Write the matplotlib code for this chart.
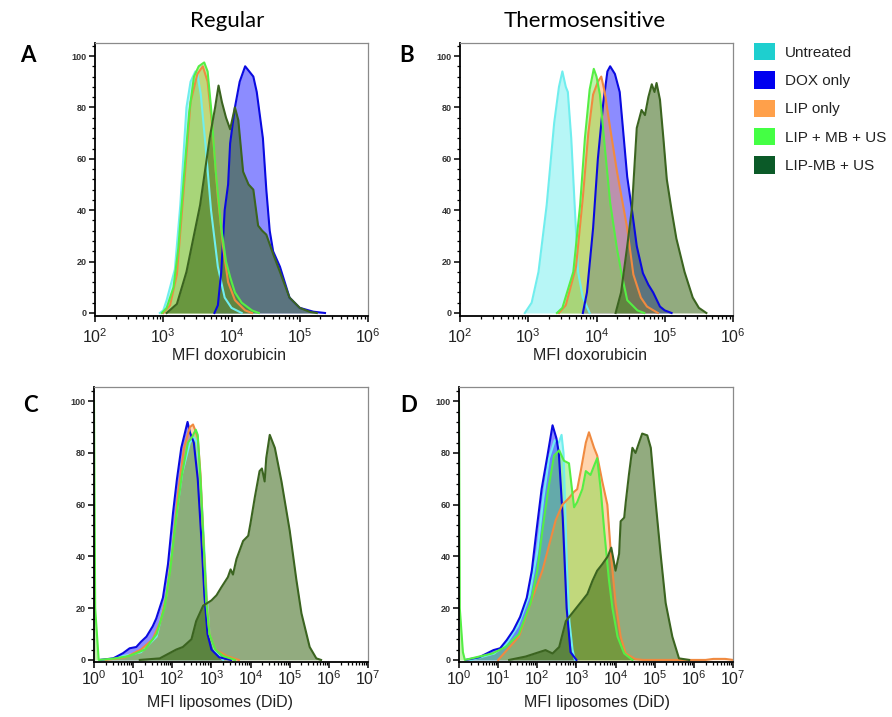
import matplotlib.pyplot as plt
from matplotlib.patches import Patch
from matplotlib.ticker import MultipleLocator, LogLocator, NullFormatter
import numpy as np

# groups, legend colours
groups = ['Untreated', 'DOX only', 'LIP only', 'LIP + MB + US', 'LIP-MB + US']
legend_colors = ['#1ecfcf', '#0000f0', '#ffa04a', '#44ff44', '#0b5a28']
fill_colors = ['#55eaea', '#0000ff', '#ff9a40', '#66e033', '#2f5f0a']
fill_alpha = [0.42, 0.45, 0.42, 0.40, 0.52]
line_colors = ['#70eeee', '#0a0ae0', '#f08a40', '#55ee44', '#3b6420']

# panel A: MFI doxorubicin, regular liposomes (log10 of MFI, % of max)
a_untr_lx = [2.95, 3.0, 3.05, 3.17, 3.25, 3.34, 3.4, 3.47, 3.5, 3.55, 3.62, 3.7, 3.8, 3.9, 4.0, 4.15]
a_untr_y = [0, 1, 5, 17, 42, 80, 90, 94, 93, 85, 65, 40, 18, 6, 2, 0]
a_dox_lx = [3.75, 3.8, 3.85, 3.9, 3.95, 3.98, 4.05, 4.12, 4.2, 4.26, 4.32, 4.37, 4.42, 4.46, 4.51,
            4.56, 4.61, 4.71, 4.78, 4.85, 5.0, 5.2, 5.37]
a_dox_y = [0, 3, 16, 40, 50, 66, 80, 90, 96, 94, 92, 86, 76, 68, 48, 32, 24, 18, 12, 6, 2, 0.5, 0]
a_lip_lx = [3.0, 3.1, 3.2, 3.3, 3.4, 3.5, 3.58, 3.65, 3.72, 3.8, 3.88, 3.95, 4.05, 4.2, 4.3]
a_lip_y = [0, 3, 15, 48, 82, 93, 96, 90, 72, 45, 25, 12, 5, 1, 0]
a_lmu_lx = [2.98, 3.05, 3.15, 3.22, 3.3, 3.38, 3.45, 3.52, 3.6, 3.65, 3.7, 3.77, 3.85, 3.92, 3.98,
            4.05, 4.15, 4.3, 4.4]
a_lmu_y = [0, 2, 10, 25, 52, 78, 92, 96, 97.5, 94, 80, 55, 33, 20, 14, 8, 4, 1, 0]
a_lmbu_lx = [3.05, 3.2, 3.34, 3.44, 3.54, 3.61, 3.68, 3.76, 3.81, 3.86, 3.92, 3.98, 4.05, 4.1, 4.17,
             4.25, 4.32, 4.39, 4.45, 4.51, 4.61, 4.71, 4.85, 5.0, 5.15, 5.25]
a_lmbu_y = [0, 3.5, 16, 29, 42, 55, 68, 80, 88.5, 82, 76, 71.5, 80, 75, 55, 50, 48, 34, 32, 30.5,
            23, 16, 6, 2, 0.4, 0]

# panel B: MFI doxorubicin, thermosensitive liposomes
b_untr_lx = [2.95, 3.05, 3.15, 3.27, 3.38, 3.45, 3.5, 3.55, 3.58, 3.63, 3.68, 3.73, 3.8, 3.9]
b_untr_y = [0, 4, 16, 42, 74, 88, 94, 88, 86, 68, 42, 16, 6, 0]
b_dox_lx = [3.8, 3.86, 3.95, 4.02, 4.1, 4.16, 4.2, 4.27, 4.34, 4.4, 4.45, 4.52, 4.59, 4.68, 4.76,
            4.83, 4.93, 5.0, 5.1]
b_dox_y = [0, 8, 33, 60, 82, 94, 96, 93, 86, 68, 53, 40, 26, 15.5, 11, 8, 2.5, 1, 0]
b_lip_lx = [3.45, 3.55, 3.7, 3.8, 3.88, 3.95, 4.02, 4.07, 4.12, 4.2, 4.3, 4.45, 4.54, 4.65, 4.74, 4.9]
b_lip_y = [0, 3, 18, 45, 70, 85, 90, 92, 86, 72, 55, 33, 15, 6, 2.5, 0]
b_lmu_lx = [3.42, 3.5, 3.66, 3.76, 3.83, 3.9, 3.96, 4.0, 4.05, 4.12, 4.2, 4.3, 4.37, 4.45, 4.6, 4.7]
b_lmu_y = [0, 2, 16, 42, 68, 87, 95, 92, 85, 65, 43, 25, 15, 5, 1, 0]
b_lmbu_lx = [4.28, 4.36, 4.45, 4.52, 4.59, 4.66, 4.71, 4.76, 4.81, 4.85, 4.88, 4.93, 4.98, 5.03,
             5.1, 5.17, 5.29, 5.41, 5.5, 5.61]
b_lmbu_y = [0, 8, 26, 41, 72, 79, 77, 84, 89, 86, 89.5, 83, 68, 52, 40, 29, 16, 6, 2, 0]

# panel C: MFI liposomes (DiD), regular liposomes
c_untr_lx = [0.3, 1.2, 1.6, 1.85, 2.05, 2.25, 2.45, 2.55, 2.63, 2.72, 2.8, 2.88, 2.95, 3.1, 3.3]
c_untr_y = [0, 3, 9, 25, 50, 72, 84, 86, 84, 70, 48, 25, 10, 3, 0]
c_dox_lx = [0.15, 0.49, 0.74, 0.91, 1.08, 1.2, 1.34, 1.5, 1.59, 1.76, 1.89, 2.02, 2.12, 2.23, 2.39,
            2.45, 2.55, 2.65, 2.75, 2.82, 2.9, 3.0, 3.2, 3.5]
c_dox_y = [0, 0.6, 2.6, 4.5, 5, 7, 9, 13, 16, 24, 37, 57, 70, 82, 92, 88, 84, 70, 45, 25, 10, 4, 1, 0]
c_lip_lx = [0.3, 0.8, 1.2, 1.5, 1.7, 1.85, 2.0, 2.15, 2.3, 2.45, 2.53, 2.58, 2.65, 2.72, 2.8, 2.88,
            2.95, 3.1, 3.4, 3.7]
c_lip_y = [0, 1, 4, 8, 15, 25, 42, 65, 82, 90, 91, 89, 86, 72, 45, 22, 10, 4, 1.5, 0]
c_lmu_lx = [0, 0.03, 0.12, 0.5, 0.9, 1.3, 1.6, 1.8, 1.95, 2.1, 2.25, 2.4, 2.5, 2.6, 2.65, 2.72, 2.8,
            2.87, 2.95, 3.1, 3.3, 3.6]
c_lmu_y = [100, 20, 0, 0.5, 1.5, 4, 10, 20, 35, 55, 72, 84, 86, 89, 87, 70, 45, 22, 10, 4, 1.5, 0]
c_lmbu_lx = [1.17, 1.68, 2.1, 2.27, 2.49, 2.61, 2.79, 3.0, 3.13, 3.25, 3.42, 3.49, 3.55, 3.64, 3.81,
             3.94, 4.0, 4.11, 4.23, 4.29, 4.36, 4.4, 4.49, 4.62, 4.79, 5.0, 5.17, 5.3, 5.51, 5.68, 5.8]
c_lmbu_y = [0, 0.6, 4, 5, 8, 15, 21, 23, 25, 28, 32, 35, 33, 39, 46, 48, 53, 63, 73, 74, 69, 78, 87,
            82, 69, 50, 31, 18, 5, 0.6, 0]

# panel D: MFI liposomes (DiD), thermosensitive liposomes
d_untr_lx = [0.3, 0.9, 1.2, 1.5, 1.8, 2.0, 2.15, 2.3, 2.45, 2.55, 2.62, 2.67, 2.72, 2.76, 2.82, 2.9, 2.96]
d_untr_y = [0, 2.5, 6, 13, 25, 42, 62, 78, 85, 84, 87, 80, 55, 35, 15, 4, 0]
d_dox_lx = [0.17, 0.51, 0.88, 1.05, 1.22, 1.39, 1.56, 1.73, 1.86, 1.98, 2.11, 2.26, 2.39, 2.49, 2.55,
            2.65, 2.75, 2.85, 3.0]
d_dox_y = [0, 1, 3.8, 4.5, 7.7, 11.5, 16.6, 24, 34.5, 50, 66, 79, 90.7, 85.6, 80, 55, 20, 3, 0]
d_lip_lx = [1.0, 1.53, 1.83, 2.13, 2.47, 2.64, 2.81, 2.94, 3.02, 3.11, 3.24, 3.32, 3.45, 3.53, 3.66,
            3.79, 3.88, 4.0, 4.13, 4.26, 4.51, 4.7, 6.3, 6.5, 6.8, 7.0]
d_lip_y = [0, 9, 22, 34.5, 54, 60, 62.6, 65, 66, 73, 84, 88, 82, 79, 69, 60, 41, 22, 9, 2.5, 0.3, 0,
           0, 0.4, 0.4, 0]
d_lmu_lx = [0, 0.02, 0.1, 0.15, 0.85, 1.19, 1.53, 1.83, 2.0, 2.13, 2.28, 2.43, 2.56, 2.68, 2.81, 2.94,
            3.02, 3.15, 3.24, 3.36, 3.45, 3.53, 3.62, 3.71, 3.83, 3.92, 4.05, 4.22, 4.43]
d_lmu_y = [100, 20, 3, 0, 2.5, 5, 10, 22, 34.5, 50, 66, 79, 81, 77, 76, 59, 61, 66, 73, 71.5, 75, 78,
           66, 50, 31, 20, 9, 2.5, 0]
d_lmbu_lx = [1.28, 1.7, 2.21, 2.39, 2.56, 2.73, 2.94, 3.15, 3.28, 3.41, 3.53, 3.66, 3.8, 3.89, 4.0,
             4.09, 4.13, 4.22, 4.26, 4.34, 4.43, 4.51, 4.6, 4.68, 4.81, 4.9, 5.03, 5.15, 5.28, 5.45,
             5.62, 5.88]
d_lmbu_y = [0, 1.3, 3.8, 2.5, 5, 15, 19, 23, 25.5, 30.6, 34.5, 37, 40, 43.4, 34.5, 41, 53.6, 55, 61,
            71.5, 82, 80, 84, 87.5, 86.8, 82, 60, 41, 22, 9, 0.6, 0]

W, H = 892, 717


def px_axes(left, top, right, bottom):
    return [left / W, 1 - bottom / H, (right - left) / W, (bottom - top) / H]


def draw_panel(ax, series, xlim, ylim, xpad):
    for (lx, y), fc, a, lc in zip(series, fill_colors, fill_alpha, line_colors):
        x = 10 ** np.array(lx)
        ax.fill_between(x, y, 0, color=fc, alpha=a, lw=0)
        ax.plot(x, y, color=lc, lw=1.5, solid_joinstyle='round')
    ax.set_xscale('log')
    ax.set_xlim(*xlim)
    ax.set_ylim(*ylim)
    ax.xaxis.set_major_locator(LogLocator(base=10, numticks=12))
    ax.xaxis.set_minor_locator(LogLocator(base=10, subs=np.arange(2, 10), numticks=12))
    ax.xaxis.set_minor_formatter(NullFormatter())
    ax.yaxis.set_major_locator(MultipleLocator(20))
    ax.yaxis.set_minor_locator(MultipleLocator(4))
    ax.tick_params(axis='x', which='major', length=4.5, width=1.1, labelsize=11.5,
                   pad=xpad, labelcolor='#222222')
    ax.tick_params(axis='x', which='minor', length=2.5, width=0.9)
    ax.tick_params(axis='y', which='major', length=4, width=1.1, labelsize=6.5,
                   pad=2, labelcolor='#333333')
    ax.tick_params(axis='y', which='minor', length=2.5, width=0.9)
    for t in ax.get_yticklabels():
        t.set_fontweight('bold')
    for s in ['top', 'right']:
        ax.spines[s].set_color('#8a8a8a')
        ax.spines[s].set_linewidth(0.9)
    for s in ['left', 'bottom']:
        ax.spines[s].set_color('black')
        ax.spines[s].set_linewidth(1.3)


plt.rcParams['font.family'] = ['Liberation Sans', 'DejaVu Sans']

fig = plt.figure(figsize=(W / 100, H / 100), dpi=100)
axA = fig.add_axes(px_axes(95, 43, 368, 316))
axB = fig.add_axes(px_axes(460, 43, 733, 316))
axC = fig.add_axes(px_axes(94, 387, 368, 662))
axD = fig.add_axes(px_axes(459, 387, 733, 662))

draw_panel(axA, [(a_untr_lx, a_untr_y), (a_dox_lx, a_dox_y), (a_lip_lx, a_lip_y),
                 (a_lmu_lx, a_lmu_y), (a_lmbu_lx, a_lmbu_y)],
           (1e2, 1e6), (-1.17, 105.06), 3.5)
draw_panel(axB, [(b_untr_lx, b_untr_y), (b_dox_lx, b_dox_y), (b_lip_lx, b_lip_y),
                 (b_lmu_lx, b_lmu_y), (b_lmbu_lx, b_lmbu_y)],
           (1e2, 1e6), (-1.17, 105.06), 3.5)
draw_panel(axC, [(c_untr_lx, c_untr_y), (c_dox_lx, c_dox_y), (c_lip_lx, c_lip_y),
                 (c_lmu_lx, c_lmu_y), (c_lmbu_lx, c_lmbu_y)],
           (1e0, 1e7), (-0.8, 105.5), 1.0)
draw_panel(axD, [(d_untr_lx, d_untr_y), (d_dox_lx, d_dox_y), (d_lip_lx, d_lip_y),
                 (d_lmu_lx, d_lmu_y), (d_lmbu_lx, d_lmbu_y)],
           (1e0, 1e7), (-0.8, 105.5), 1.0)

# column titles, panel letters, axis labels
fig.text(227 / W, 1 - 21 / H, 'Regular', family='Lato', fontsize=16, ha='center', va='center')
fig.text(585 / W, 1 - 21 / H, 'Thermosensitive', family='Lato', fontsize=16, ha='center', va='center')
for letter, x, y in [('A', 28, 56), ('B', 407, 56), ('C', 30, 405), ('D', 409, 405)]:
    fig.text(x / W, 1 - y / H, letter, family='Lato', fontweight='bold', fontsize=16,
             ha='center', va='center')
fig.text(229 / W, 1 - 355 / H, 'MFI doxorubicin', fontsize=11.5, ha='center', va='center', color='#222222')
fig.text(590 / W, 1 - 355 / H, 'MFI doxorubicin', fontsize=11.5, ha='center', va='center', color='#222222')
fig.text(220 / W, 1 - 702 / H, 'MFI liposomes (DiD)', fontsize=11.5, ha='center', va='center', color='#222222')
fig.text(597 / W, 1 - 702 / H, 'MFI liposomes (DiD)', fontsize=11.5, ha='center', va='center', color='#222222')

handles = [Patch(facecolor=c, edgecolor='none') for c in legend_colors]
fig.legend(handles, groups, loc='upper left', bbox_to_anchor=(754 / W, 1 - 43 / H),
           frameon=False, fontsize=11, handlelength=1.37, handleheight=1.37,
           labelspacing=0.72, handletextpad=0.65, borderpad=0, borderaxespad=0,
           labelcolor='#222222')

fig.savefig('out.png', dpi=100)
